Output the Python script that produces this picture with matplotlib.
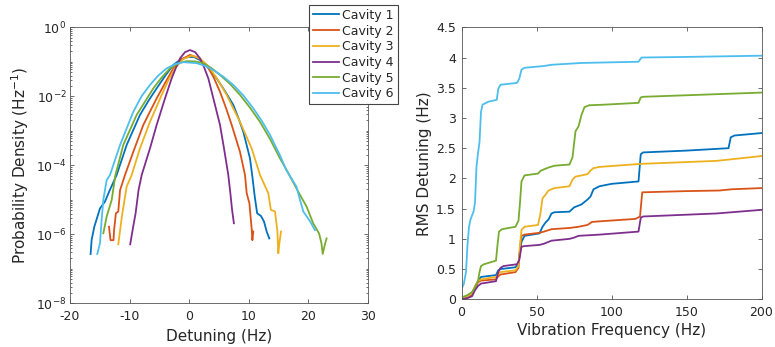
import numpy as np
import matplotlib
matplotlib.use("Agg")
import matplotlib.pyplot as plt
from matplotlib.ticker import FixedLocator, LogLocator, NullFormatter, FixedFormatter

plt.rcParams['font.family'] = ['DejaVu Sans']
plt.rcParams['axes.unicode_minus'] = False
plt.rcParams['mathtext.default'] = 'regular'

cavity_names = ["Cavity 1", "Cavity 2", "Cavity 3", "Cavity 4", "Cavity 5", "Cavity 6"]
cavity_colors = ['#0072BD', '#D95319', '#EDB120', '#7E2F8E', '#77AC30', '#4DBEEE']

# ---- detuning probability densities: detuning (Hz) and log10 of density (1/Hz)
det_c1 = [-16.54, -16.37, -15.92, -14.97, -14.13, -13.3, -12.17, -10.49, -8.26, -6.8, -5.46,
          -4.0, -2.67, -1.4, -0.15, 0.8, 1.81, 3.2, 4.6, 6.0, 7.4, 8.3, 9.08, 10.2, 10.6,
          11.0, 11.4, 12.05, 12.55, 13.0, 13.44]
lpd_c1 = [-6.57, -6.16, -5.78, -5.25, -5.05, -4.71, -4.28, -3.41, -2.54, -2.12, -1.77,
          -1.4, -1.09, -0.93, -0.86, -0.86, -0.95, -1.18, -1.48, -1.85, -2.25, -2.65, -3.03,
          -3.8, -4.33, -4.91, -5.39, -5.47, -5.63, -5.92, -6.12]

det_c2 = [-13.46, -13.2, -12.7, -12.6, -12.3, -11.9, -11.6, -10.77, -9.38, -7.7, -6.6,
          -5.46, -4.0, -2.67, -1.2, 0.13, 1.5, 2.93, 4.1, 5.17, 6.2, 7.13, 8.52, 9.36, 9.65,
          10.1, 10.3, 10.5, 10.6, 10.75]
lpd_c2 = [-5.78, -6.17, -6.17, -5.87, -5.39, -5.34, -4.72, -4.28, -3.61, -2.83, -2.45,
          -2.06, -1.6, -1.19, -0.92, -0.8, -0.88, -1.09, -1.45, -1.87, -2.35, -2.83, -3.61,
          -4.28, -4.81, -5.1, -5.49, -5.88, -6.17, -5.92]

det_c3 = [-11.9, -11.3, -10.5, -9.65, -8.26, -6.58, -4.62, -3.4, -2.38, -1.0, 0.41, 1.8,
          3.49, 4.9, 6.29, 7.4, 8.52, 10.48, 11.88, 13.27, 13.7, 14.4, 14.8, 14.95, 15.1, 15.4]
lpd_c3 = [-6.29, -5.49, -4.62, -4.28, -3.51, -2.74, -1.96, -1.5, -1.19, -0.92, -0.82, -0.9,
          -1.19, -1.55, -1.96, -2.35, -2.74, -3.51, -4.28, -4.81, -5.29, -5.34, -5.92,
          -6.55, -6.3, -5.92]

det_c4 = [-9.9, -9.4, -9.0, -8.5, -7.97, -6.58, -5.46, -4.06, -2.94, -2.2, -1.54, -0.7,
          0.13, 1.0, 1.81, 2.5, 3.21, 4.05, 5.17, 5.84, 6.56, 6.9, 7.2, 7.5]
lpd_c4 = [-6.29, -5.78, -5.4, -4.72, -4.28, -3.51, -2.83, -2.06, -1.48, -1.16, -0.9, -0.72,
          -0.66, -0.72, -0.9, -1.16, -1.48, -2.06, -2.83, -3.51, -4.28, -4.8, -5.3, -5.68]

det_c5 = [-14.41, -13.85, -13.0, -12.4, -11.06, -8.82, -6.02, -4.6, -3.22, -1.8, -0.42,
          1.0, 2.37, 3.8, 5.17, 6.9, 8.52, 10.2, 11.88, 13.6, 15.23, 16.35, 18.0, 18.6, 19.7,
          20.8, 21.8, 22.2, 22.4, 22.8, 23.05]
lpd_c5 = [-5.97, -5.49, -5.0, -4.3, -3.41, -2.54, -1.77, -1.45, -1.19, -1.04, -0.98, -0.99,
          -1.04, -1.19, -1.38, -1.65, -1.96, -2.33, -2.74, -3.25, -3.8, -4.14, -4.67, -4.86,
          -5.2, -5.68, -5.98, -6.27, -6.57, -6.27, -6.12]

det_c6 = [-15.42, -14.97, -14.69, -14.41, -13.85, -13.29, -11.6, -9.38, -8.0, -6.58, -5.2,
          -3.78, -2.4, -0.99, 1.26, 2.7, 4.05, 5.7, 7.4, 9.1, 10.76, 12.2, 13.56, 15.2, 16.3,
          18.0, 18.6, 19.15, 20.3, 21.1]
lpd_c6 = [-6.57, -6.26, -5.58, -5.0, -4.43, -4.28, -3.41, -2.45, -2.0, -1.67, -1.4, -1.19,
          -1.07, -1.01, -1.04, -1.12, -1.24, -1.43, -1.67, -1.98, -2.35, -2.72, -3.12, -3.7,
          -4.14, -4.62, -5.01, -5.34, -5.63, -5.88]

# ---- cumulative RMS detuning versus vibration frequency
f_c1 = [0, 4, 7, 9, 11, 13, 23, 24.5, 26, 36, 38, 39, 40, 42, 52, 54, 56, 58, 60, 62, 72, 75,
        80, 84, 86, 88, 92, 100, 118, 119.5, 121, 150, 178, 179.5, 182, 200]
rms_c1 = [0.02, 0.05, 0.1, 0.2, 0.3, 0.37, 0.4, 0.48, 0.5, 0.53, 0.6, 0.8, 0.95, 1.05, 1.09,
          1.2, 1.27, 1.32, 1.42, 1.44, 1.45, 1.52, 1.57, 1.65, 1.7, 1.82, 1.87, 1.91, 1.95,
          2.4, 2.43, 2.46, 2.5, 2.68, 2.71, 2.75]

f_c2 = [0, 4, 7, 9, 11, 13, 23, 24.5, 26, 36, 38, 39, 40, 42, 52, 55, 60, 72, 78, 84, 87, 92,
        116, 119, 120.5, 150, 172, 180, 200]
rms_c2 = [0.01, 0.03, 0.08, 0.18, 0.28, 0.31, 0.33, 0.38, 0.41, 0.45, 0.52, 0.85, 1.05, 1.07,
          1.1, 1.12, 1.16, 1.18, 1.2, 1.23, 1.28, 1.29, 1.33, 1.37, 1.77, 1.79, 1.8, 1.82, 1.84]

f_c3 = [0, 4, 7, 9, 11, 13, 23, 25, 26, 36, 38, 39, 40, 42, 51, 52.5, 54, 56, 58, 62, 72, 74,
        76, 84, 86, 88, 92, 119, 170, 200]
rms_c3 = [0.02, 0.05, 0.1, 0.22, 0.3, 0.33, 0.37, 0.43, 0.45, 0.48, 0.55, 0.9, 1.15, 1.2,
          1.23, 1.4, 1.67, 1.73, 1.8, 1.84, 1.87, 1.98, 2.03, 2.07, 2.13, 2.17, 2.19, 2.24,
          2.29, 2.37]

f_c4 = [0, 4, 7, 9, 11, 13, 23, 24.5, 26, 28, 37, 38.5, 40, 42, 52, 55, 58, 60, 72, 75, 78,
        92, 118, 119.5, 121, 170, 200]
rms_c4 = [0.0, 0.02, 0.05, 0.15, 0.22, 0.26, 0.3, 0.45, 0.52, 0.55, 0.58, 0.65, 0.87, 0.88,
          0.9, 0.92, 0.95, 0.97, 1.0, 1.02, 1.05, 1.07, 1.12, 1.35, 1.37, 1.42, 1.48]

f_c5 = [0, 4, 7, 9, 10, 11, 12, 13, 15, 23, 24, 25, 27, 36, 38, 39, 40, 42, 51, 53, 55, 58,
        62, 72, 74, 76, 78, 80, 82, 85, 95, 118, 119.5, 121, 200]
rms_c5 = [0.03, 0.07, 0.12, 0.2, 0.26, 0.3, 0.45, 0.55, 0.58, 0.64, 0.9, 1.12, 1.16, 1.2,
          1.3, 1.6, 1.95, 2.05, 2.08, 2.13, 2.15, 2.18, 2.21, 2.23, 2.35, 2.78, 2.86, 3.05,
          3.18, 3.21, 3.22, 3.25, 3.34, 3.35, 3.42]

f_c6 = [0, 1.5, 3, 4, 5, 6, 8, 9, 10, 11, 12, 13, 14, 18, 23.5, 24.5, 26, 37, 38.5, 40, 42,
        55, 60, 80, 118, 120, 150, 200]
rms_c6 = [0.17, 0.25, 0.45, 0.9, 1.2, 1.32, 1.45, 1.6, 2.2, 2.42, 2.6, 3.1, 3.22, 3.27, 3.3,
          3.48, 3.55, 3.58, 3.65, 3.8, 3.83, 3.86, 3.88, 3.91, 3.93, 4.0, 4.01, 4.03]

pdf_series = [(det_c1, lpd_c1), (det_c2, lpd_c2), (det_c3, lpd_c3),
              (det_c4, lpd_c4), (det_c5, lpd_c5), (det_c6, lpd_c6)]
rms_series = [(f_c1, rms_c1), (f_c2, rms_c2), (f_c3, rms_c3),
              (f_c4, rms_c4), (f_c5, rms_c5), (f_c6, rms_c6)]

W, H = 775, 347
fig = plt.figure(figsize=(W / 100, H / 100), dpi=100)

text_color = '#262626'
frame_color = '#555555'


def style_axes(ax):
    for s in ax.spines.values():
        s.set_color(frame_color)
        s.set_linewidth(0.6)
    ax.tick_params(which='both', direction='in', top=True, right=True,
                   color=frame_color, labelcolor=text_color, labelsize=9, width=0.6)
    ax.tick_params(which='major', length=2.8)
    ax.tick_params(which='minor', length=1.5)


# ---- left panel: probability density
ax1 = fig.add_axes([70 / W, (H - 303.3) / H, 298 / W, 276 / H])
lines = []
for (x, lp), c, name in zip(pdf_series, cavity_colors, cavity_names):
    ln, = ax1.plot(x, 10.0 ** np.asarray(lp), color=c, lw=1.3, label=name)
    lines.append(ln)
ax1.set_yscale('log')
ax1.set_xlim(-20, 30)
ax1.set_ylim(1e-8, 1e0)
ax1.set_xticks([-20, -10, 0, 10, 20, 30])
ax1.yaxis.set_major_locator(FixedLocator([1e-8, 1e-6, 1e-4, 1e-2, 1e0]))
ax1.yaxis.set_major_formatter(FixedFormatter(['$10^{-8}$', '$10^{-6}$', '$10^{-4}$',
                                              '$10^{-2}$', '$10^{0}$']))
ax1.yaxis.set_minor_locator(LogLocator(base=10, subs=np.arange(1, 10), numticks=100))
ax1.yaxis.set_minor_formatter(NullFormatter())
style_axes(ax1)
ax1.tick_params(axis='y', which='major', pad=2.5)
ax1.tick_params(axis='x', which='major', pad=5)
ax1.set_xlabel('Detuning (Hz)', fontsize=11, color=text_color, labelpad=4)
ax1.set_ylabel('Probability Density (Hz$^{-1}$)', fontsize=11, color=text_color, labelpad=4)

# ---- right panel: RMS detuning
ax2 = fig.add_axes([461.5 / W, (H - 299.3) / H, 300 / W, 272 / H])
for (f, r), c in zip(rms_series, cavity_colors):
    ax2.plot(f, r, color=c, lw=1.3)
ax2.set_xlim(0, 200)
ax2.set_ylim(0, 4.5)
ax2.set_xticks([0, 50, 100, 150, 200])
ax2.set_yticks(np.arange(0, 4.51, 0.5))
ax2.set_yticklabels(['0', '0.5', '1', '1.5', '2', '2.5', '3', '3.5', '4', '4.5'])
style_axes(ax2)
ax2.tick_params(axis='y', which='major', pad=4)
ax2.tick_params(axis='x', which='major', pad=5)
ax2.set_xlabel('Vibration Frequency (Hz)', fontsize=11, color=text_color, labelpad=3)
ax2.set_ylabel('RMS Detuning (Hz)', fontsize=11, color=text_color, labelpad=3)

# ---- legend placed across the top-right corner of the left panel
leg = fig.legend(handles=lines, loc='upper left', bbox_to_anchor=(309 / W, 1 - 5 / H),
                 bbox_transform=fig.transFigure, borderaxespad=0, fontsize=9,
                 handlelength=2.1, handletextpad=0.25, labelspacing=0.22,
                 borderpad=0.3, fancybox=False, framealpha=1, edgecolor='#444444')
leg.get_frame().set_linewidth(0.8)
for t in leg.get_texts():
    t.set_color(text_color)

fig.savefig('out.png', dpi=100)
